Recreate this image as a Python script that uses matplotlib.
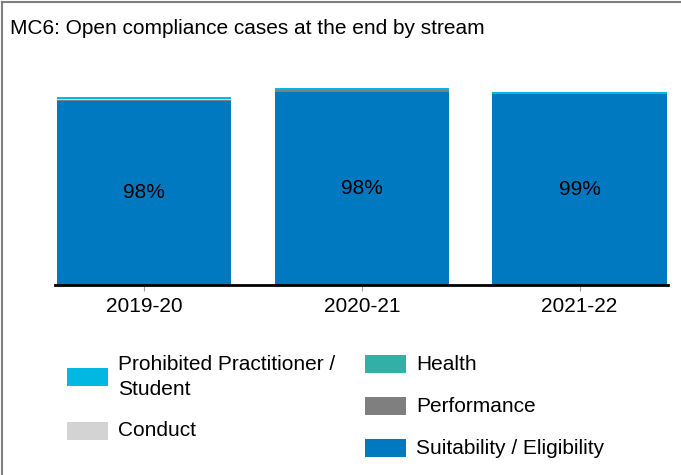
import numpy as np
import matplotlib
matplotlib.use("Agg")
import matplotlib.pyplot as plt
from matplotlib.patches import Rectangle
from matplotlib.lines import Line2D

plt.rcParams['font.family'] = ['Liberation Sans', 'DejaVu Sans']

# open cases at year end, by stream
years = ["2019-20", "2020-21", "2021-22"]
suitability = [368, 386, 383]
performance = [3, 5, 0]
health = [0, 0, 0]
conduct = [2, 0, 0]
prohibited = [3, 3, 3]

c_suit = "#0079C1"
c_perf = "#7F7F7F"
c_health = "#33B0A6"
c_cond = "#D3D3D3"
c_prohib = "#00B8E2"

W, H = 681, 475
fig = plt.figure(figsize=(W / 100, H / 100), dpi=100)
ax = fig.add_axes([55 / W, 190 / H, 613 / W, 200 / H])

x = np.arange(len(years))
bottom = np.zeros(len(years))
series = [(suitability, c_suit), (performance, c_perf), (health, c_health),
          (conduct, c_cond), (prohibited, c_prohib)]
for vals, col in series:
    ax.bar(x, vals, width=0.8, bottom=bottom, color=col, linewidth=0)
    bottom += np.array(vals)

totals = bottom
for i in range(len(years)):
    pct = round(100 * suitability[i] / totals[i])
    ax.text(x[i], suitability[i] / 2, f"{pct}%", ha="center", va="center", fontsize=15)

ax.set_xlim(-0.409, 2.406)
ax.set_ylim(0, 400)
ax.set_xticks(x)
ax.set_xticklabels(years, fontsize=15)
ax.tick_params(axis="x", length=4, color="#A0A0A0", pad=5)
ax.set_yticks([])
for s in ["top", "right", "left"]:
    ax.spines[s].set_visible(False)
ax.spines["bottom"].set_color("black")
ax.spines["bottom"].set_linewidth(2)

# title and outer frame (top and left only)
fig.text(10 / W, 1 - 28 / H, "MC6: Open compliance cases at the end by stream",
         ha="left", va="center", fontsize=15)
fig.add_artist(Line2D([2 / W, 1], [1 - 2 / H, 1 - 2 / H], color="#808080", lw=1.5,
                      transform=fig.transFigure))
fig.add_artist(Line2D([2 / W, 2 / W], [0, 1 - 2 / H], color="#808080", lw=1.5,
                      transform=fig.transFigure))

# legend, two columns
def legend_item(x0, ytop, col, label):
    fig.add_artist(Rectangle((x0 / W, 1 - (ytop + 18) / H), 41 / W, 18 / H,
                             facecolor=col, edgecolor="none", transform=fig.transFigure))
    fig.text((x0 + 51) / W, 1 - (ytop + 9) / H, label, ha="left", va="center",
             fontsize=15, linespacing=1.38)

legend_item(67, 368, c_prohib, "Prohibited Practitioner /\nStudent")
legend_item(67, 422, c_cond, "Conduct")
legend_item(365, 355, c_health, "Health")
legend_item(365, 397, c_perf, "Performance")
legend_item(365, 439, c_suit, "Suitability / Eligibility")

fig.savefig("out.png", dpi=100)
